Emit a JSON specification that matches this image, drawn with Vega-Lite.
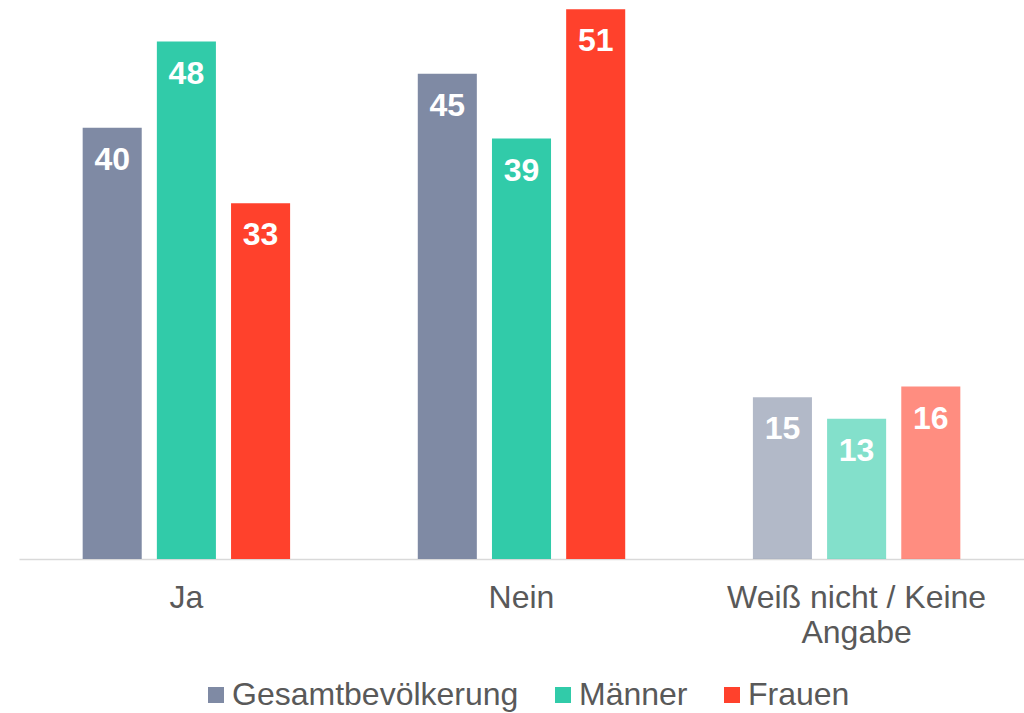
{
  "$schema": "https://vega.github.io/schema/vega-lite/v6.json",
  "width": 1005,
  "height": 559,
  "autosize": {"type": "none"},
  "padding": {"top": 0, "left": 19, "right": 0, "bottom": 154},
  "background": "white",
  "config": {
    "view": {"stroke": null},
    "font": "Liberation Sans"
  },
  "data": {
    "values": [
      {"Antwort": "Ja", "Gruppe": "Gesamtbevölkerung", "Wert": 40},
      {"Antwort": "Ja", "Gruppe": "Männer", "Wert": 48},
      {"Antwort": "Ja", "Gruppe": "Frauen", "Wert": 33},
      {"Antwort": "Nein", "Gruppe": "Gesamtbevölkerung", "Wert": 45},
      {"Antwort": "Nein", "Gruppe": "Männer", "Wert": 39},
      {"Antwort": "Nein", "Gruppe": "Frauen", "Wert": 51},
      {"Antwort": "Weiß nicht / Keine Angabe", "Gruppe": "Gesamtbevölkerung", "Wert": 15},
      {"Antwort": "Weiß nicht / Keine Angabe", "Gruppe": "Männer", "Wert": 13},
      {"Antwort": "Weiß nicht / Keine Angabe", "Gruppe": "Frauen", "Wert": 16}
    ]
  },
  "encoding": {
    "x": {
      "field": "Antwort",
      "type": "nominal",
      "sort": null,
      "scale": {"paddingInner": 0.381, "paddingOuter": 0.19},
      "axis": {
        "title": null,
        "labelAngle": 0,
        "labelFontSize": 32,
        "labelColor": "#595959",
        "labelPadding": 23,
        "labelLineHeight": 35,
        "labelLimit": 0,
        "labelExpr": "datum.label == 'Weiß nicht / Keine Angabe' ? ['Weiß nicht / Keine', 'Angabe'] : datum.label",
        "ticks": false,
        "domainColor": "#D9D9D9",
        "domainWidth": 1.5,
        "grid": false
      }
    },
    "xOffset": {
      "field": "Gruppe",
      "type": "nominal",
      "sort": ["Gesamtbevölkerung", "Männer", "Frauen"],
      "scale": {"paddingInner": 0.204, "paddingOuter": 0}
    },
    "y": {
      "field": "Wert",
      "type": "quantitative",
      "scale": {"domain": [0, 51.85], "nice": false},
      "axis": null
    }
  },
  "layer": [
    {
      "mark": {"type": "bar"},
      "encoding": {
        "color": {
          "field": "Gruppe",
          "type": "nominal",
          "sort": ["Gesamtbevölkerung", "Männer", "Frauen"],
          "scale": {
            "domain": ["Gesamtbevölkerung", "Männer", "Frauen"],
            "range": ["#7F8AA4", "#31CBA9", "#FF412C"]
          },
          "legend": {
            "title": null,
            "orient": "none",
            "direction": "horizontal",
            "legendX": 181,
            "legendY": 679,
            "symbolType": "square",
            "symbolSize": 256,
            "symbolStrokeWidth": 0,
            "symbolOpacity": 1,
            "labelFontSize": 32,
            "labelColor": "#595959",
            "labelLimit": 0,
            "labelOffset": 0,
            "columnPadding": 28
          }
        },
        "opacity": {
          "condition": {"test": "datum.Antwort == 'Weiß nicht / Keine Angabe'", "value": 0.6},
          "value": 1
        }
      }
    },
    {
      "mark": {
        "type": "text",
        "color": "white",
        "fontWeight": "bold",
        "fontSize": 32,
        "baseline": "alphabetic",
        "dy": 42
      },
      "encoding": {
        "text": {"field": "Wert", "type": "quantitative"}
      }
    }
  ]
}
